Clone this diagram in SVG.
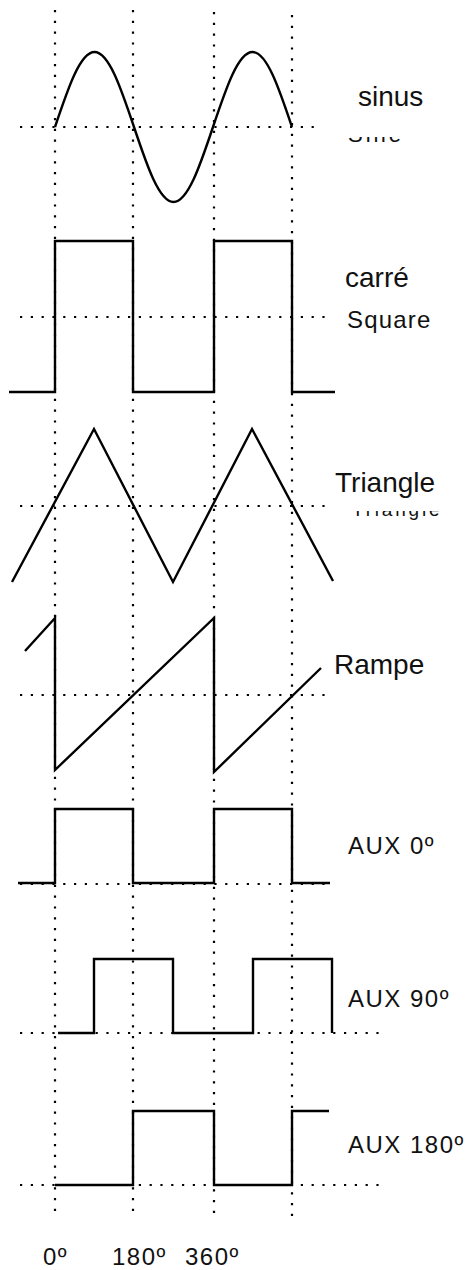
<svg xmlns="http://www.w3.org/2000/svg" width="469" height="1270" viewBox="0 0 469 1270">
<style>
.grid{stroke:#000;stroke-width:2.2;stroke-dasharray:2.2 8.6;fill:none}
.wave{stroke:#000;stroke-width:2.4;fill:none;stroke-linejoin:miter}
.big{font-family:"Liberation Sans",Arial,sans-serif;font-size:28px;fill:#111}
.small{font-family:"Liberation Sans",Arial,sans-serif;font-size:24px;fill:#111;letter-spacing:1.5px}
</style>
<defs>
<clipPath id="clipSine"><rect x="330" y="137" width="139" height="20"/></clipPath>
<clipPath id="clipTri"><rect x="330" y="511" width="139" height="20"/></clipPath>
</defs>
<rect width="469" height="1270" fill="#fff"/>
<g id="grid">
<line class="grid" x1="55" y1="10" x2="55" y2="1215"/>
<line class="grid" x1="133" y1="10" x2="133" y2="1217"/>
<line class="grid" x1="214" y1="12" x2="214" y2="1217"/>
<line class="grid" x1="292" y1="15" x2="292" y2="1220"/>
<line class="grid" x1="20" y1="127" x2="318" y2="127"/>
<line class="grid" x1="20" y1="317" x2="328" y2="317"/>
<line class="grid" x1="20" y1="506" x2="328" y2="506"/>
<line class="grid" x1="20" y1="695" x2="328" y2="695"/>
<line class="grid" x1="20" y1="884" x2="330" y2="884"/>
<line class="grid" x1="20" y1="1033" x2="383" y2="1033"/>
<line class="grid" x1="20" y1="1185" x2="383" y2="1185"/>
</g>
<g id="sine">
<path class="wave" d="M55,127 C68.2,87.6 80.3,52 94.5,52 C108.7,52 120.8,87.6 134,127 C147.2,166.4 159.3,202 173.5,202 C187.7,202 199.8,166.4 213,127 C226.2,87.6 238.3,52 252.5,52 C266.7,52 278.8,87.6 292,127"/>
<text class="big" x="358" y="106">sinus</text>
<text class="small" x="348" y="142" style="font-size:22px;letter-spacing:3px" clip-path="url(#clipSine)">Sine</text>
</g>
<g id="square">
<polyline class="wave" points="9,392 55,392 55,241 133,241 133,392 214,392 214,241 292,241 292,392 335,392"/>
<text class="big" x="345" y="287">carré</text>
<text class="small" x="347" y="328" style="letter-spacing:1.2px">Square</text>
</g>
<g id="triangle">
<polyline class="wave" points="12,582 94,429 173,582 252,429 333,581"/>
<text class="big" x="335" y="492">Triangle</text>
<text class="small" x="352" y="516" style="font-size:19px;letter-spacing:2.8px" clip-path="url(#clipTri)">Triangle</text>
</g>
<g id="ramp">
<polyline class="wave" points="25,651 55,618 55,770 214,618 214,772 321,668"/>
<text class="big" x="334" y="674">Rampe</text>
</g>
<g id="aux0">
<polyline class="wave" points="18,883 55,883 55,809 133,809 133,883 214,883 214,809 292,809 292,883 330,883"/>
<text class="small" x="348" y="854">AUX 0º</text>
</g>
<g id="aux90">
<polyline class="wave" points="58,1033 94,1033 94,959 173,959 173,1033 253,1033 253,959 332,959 332,1033"/>
<text class="small" x="348" y="1007">AUX 90º</text>
</g>
<g id="aux180">
<polyline class="wave" points="55,1185 133,1185 133,1111 214,1111 214,1185 292,1185 292,1111 329,1111"/>
<text class="small" x="348" y="1153">AUX 180º</text>
</g>
<g id="axis-labels">
<text class="small" x="43" y="1265">0º</text>
<text class="small" x="112" y="1265">180º</text>
<text class="small" x="185" y="1265">360º</text>
</g>
</svg>
